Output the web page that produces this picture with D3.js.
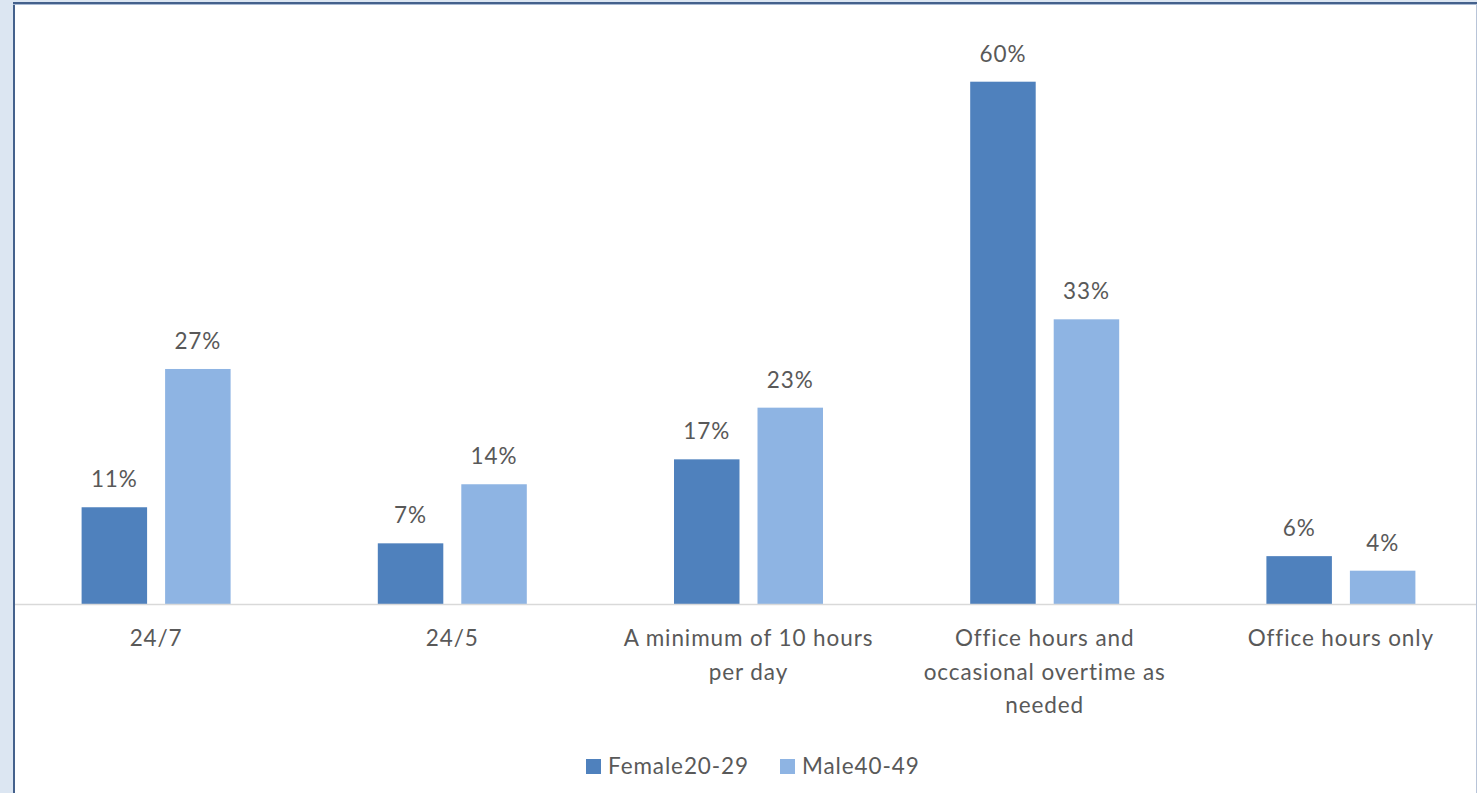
<!DOCTYPE html>
<html>
<head>
<meta charset="utf-8">
<script src="https://cdn.jsdelivr.net/npm/d3@7"></script>
<style>
  html, body { margin: 0; padding: 0; background: #dce6f2; overflow: hidden; }
  svg { display: block; }
</style>
</head>
<body>
<svg id="chart" width="1477" height="793"></svg>
<script>
const categories = ["24/7", "24/5", "A minimum of 10 hours per day", "Office hours and occasional overtime as needed", "Office hours only"];
const categoryLines = [["24/7"], ["24/5"], ["A minimum of 10 hours", "per day"], ["Office hours and", "occasional overtime as", "needed"], ["Office hours only"]];
const seriesNames = ["Female20-29", "Male40-49"];
const female = [0.1116, 0.0702, 0.1666, 0.60, 0.0555];
const male = [0.2703, 0.1380, 0.2259, 0.3273, 0.0388];
const colors = ["#4f81bd", "#8eb4e3"];

const svg = d3.select("#chart");
const W = 1477, H = 793;
const FONT = "Lato, 'Open Sans', sans-serif";
const TEXT = "#595959";
const FS = 22.5;
const LS = "0.9px";

// chart frame
svg.append("rect").attr("x", 15).attr("y", 4).attr("width", W - 16).attr("height", H - 4).attr("fill", "#ffffff");
svg.append("line").attr("x1", 14).attr("x2", 14).attr("y1", 2).attr("y2", H).attr("stroke", "#44618c").attr("stroke-width", 2);
svg.append("line").attr("x1", 13).attr("x2", W).attr("y1", 3).attr("y2", 3).attr("stroke", "#44618c").attr("stroke-width", 2);
svg.append("line").attr("x1", 13).attr("x2", W).attr("y1", 4.5).attr("y2", 4.5).attr("stroke", "#a9bad3").attr("stroke-width", 1);
svg.append("line").attr("x1", W - 0.5).attr("x2", W - 0.5).attr("y1", 4).attr("y2", H).attr("stroke", "#b8c4d8").attr("stroke-width", 1);

const baseY = 604.5;
const y = d3.scaleLinear().domain([0, 0.60]).range([baseY, 81.7]);
const x0 = d3.scaleBand().domain(categories).range([8, 1489]).padding(0);
const x1 = d3.scaleBand().domain(seriesNames).range([73.6, 222.6]).paddingInner(0.2156).paddingOuter(0);

const data = categories.map((c, i) => ({ cat: c, lines: categoryLines[i], vals: [female[i], male[i]] }));

const g = svg.append("g");
const groups = g.selectAll("g.cat").data(data).enter().append("g")
  .attr("transform", d => `translate(${x0(d.cat)},0)`);

groups.selectAll("rect").data(d => d.vals.map((v, k) => ({ s: seriesNames[k], v, k })))
  .enter().append("rect")
  .attr("x", d => x1(d.s))
  .attr("width", x1.bandwidth())
  .attr("y", d => y(d.v))
  .attr("height", d => baseY - y(d.v))
  .attr("fill", d => colors[d.k]);

groups.selectAll("text.val").data(d => d.vals.map((v, k) => ({ s: seriesNames[k], v, k })))
  .enter().append("text").attr("class", "val")
  .attr("x", d => x1(d.s) + x1.bandwidth() / 2)
  .attr("y", d => y(d.v) - 20)
  .attr("text-anchor", "middle")
  .attr("font-family", FONT).attr("font-size", FS).attr("letter-spacing", LS).attr("fill", TEXT)
  .text(d => d3.format(".0%")(d.v));

// axis baseline
g.append("line").attr("x1", 15).attr("x2", W - 1).attr("y1", baseY).attr("y2", baseY)
  .attr("stroke", "#d9d9d9").attr("stroke-width", 1.5);

// category labels
groups.each(function(d) {
  const t = d3.select(this).append("text")
    .attr("text-anchor", "middle")
    .attr("font-family", FONT).attr("font-size", FS).attr("letter-spacing", LS).attr("fill", TEXT);
  d.lines.forEach((ln, j) => {
    t.append("tspan").attr("x", x0.bandwidth() / 2).attr("y", 646 + j * 33.5).text(ln);
  });
});

// legend
const legend = svg.append("g");
const legendItems = [{ name: seriesNames[0], x: 586, c: colors[0] }, { name: seriesNames[1], x: 780, c: colors[1] }];
legendItems.forEach(it => {
  legend.append("rect").attr("x", it.x).attr("y", 759).attr("width", 15).attr("height", 15).attr("fill", it.c);
  legend.append("text").attr("x", it.x + 22).attr("y", 774)
    .attr("font-family", FONT).attr("font-size", FS).attr("letter-spacing", LS).attr("fill", TEXT).text(it.name);
});
</script>
</body>
</html>
